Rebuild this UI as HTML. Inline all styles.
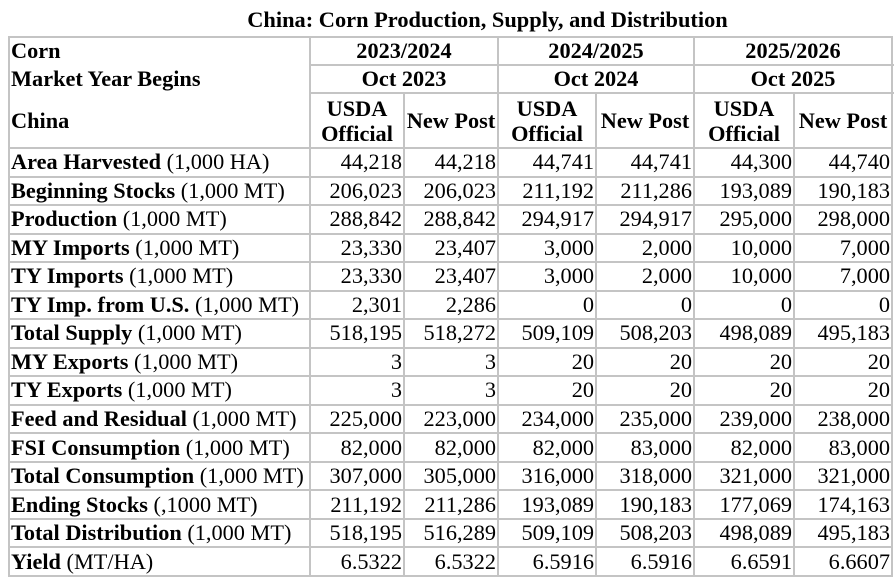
<!DOCTYPE html>
<html><head><meta charset="utf-8"><style>
html,body{margin:0;padding:0;background:#fff;width:895px;height:586px;overflow:hidden}
body{position:relative;font-family:"Liberation Serif","Times New Roman","DejaVu Serif",serif;color:#000}
.t{position:absolute;top:8px;left:40px;width:895px;text-align:center;font-weight:bold;font-size:22.4px;line-height:24px;font-family:"Liberation Serif","Times New Roman",serif;white-space:nowrap}
.l{position:absolute;background:#c4c4c4}
.c{position:absolute;font-size:22.3px;line-height:24px;white-space:nowrap;display:flex;align-items:center;font-family:"Liberation Serif","Times New Roman",serif}
.b{font-weight:bold}
</style></head><body>
<div class="t">China: Corn Production, Supply, and Distribution</div>
<div id="g"></div>
<script>
var g=document.getElementById('g');
var X=[9,310,404,498,596,694,794,892];
var Y=[37,65,93,148];
for(var i=1;i<=15;i++)Y.push(148+i*28.53);
function line(x,y,w,h){var d=document.createElement('div');d.className='l';d.style.left=x+'px';d.style.top=y+'px';d.style.width=w+'px';d.style.height=h+'px';g.appendChild(d);}
function cell(x1,x2,y1,y2,html,align,bold){var d=document.createElement('div');d.className='c'+(bold?' b':'');d.style.left=(x1+2)+'px';d.style.width=(x2-x1-4)+'px';d.style.top=y1+'px';d.style.height=(y2-y1)+'px';d.style.justifyContent=align;d.style.textAlign=align=='center'?'center':'left';d.innerHTML=html;g.appendChild(d);}
for(var i=0;i<Y.length;i++){
  var y=Y[i];
  if(i==1||i==2){line(X[1],y-1,X[7]-X[1]+2,2);} else line(X[0]-1,y-1,X[7]-X[0]+2,2);
}
line(X[0]-1,37,2,Y[18]-37);line(X[7]-1,37,2,Y[18]-37);
[1,3,5].forEach(function(k){line(X[k]-1,37,2,Y[18]-37);});
[2,4,6].forEach(function(k){line(X[k]-1,93,2,Y[18]-93);});
cell(X[0],X[1],37,65,'Corn','flex-start',1);
cell(X[0],X[1],65,93,'Market Year Begins','flex-start',1);
cell(X[0],X[1],93,148,'China','flex-start',1);
var yr=['2023/2024','2024/2025','2025/2026'],oc=['Oct 2023','Oct 2024','Oct 2025'];
for(var k=0;k<3;k++){
 cell(X[1+2*k],X[3+2*k],37,65,yr[k],'center',1);
 cell(X[1+2*k],X[3+2*k],65,93,oc[k],'center',1);
 cell(X[1+2*k],X[2+2*k],93,148,'<div style="width:100%;text-align:center;line-height:25px">USDA<br>Official</div>','center',1);
 cell(X[2+2*k],X[3+2*k],93,148,'New Post','center',1);
}
var R=[
['Area Harvested','(1,000 HA)','44,218','44,218','44,741','44,741','44,300','44,740'],
['Beginning Stocks','(1,000 MT)','206,023','206,023','211,192','211,286','193,089','190,183'],
['Production','(1,000 MT)','288,842','288,842','294,917','294,917','295,000','298,000'],
['MY Imports','(1,000 MT)','23,330','23,407','3,000','2,000','10,000','7,000'],
['TY Imports','(1,000 MT)','23,330','23,407','3,000','2,000','10,000','7,000'],
['TY Imp. from U.S.','(1,000 MT)','2,301','2,286','0','0','0','0'],
['Total Supply','(1,000 MT)','518,195','518,272','509,109','508,203','498,089','495,183'],
['MY Exports','(1,000 MT)','3','3','20','20','20','20'],
['TY Exports','(1,000 MT)','3','3','20','20','20','20'],
['Feed and Residual','(1,000 MT)','225,000','223,000','234,000','235,000','239,000','238,000'],
['FSI Consumption','(1,000 MT)','82,000','82,000','82,000','83,000','82,000','83,000'],
['Total Consumption','(1,000 MT)','307,000','305,000','316,000','318,000','321,000','321,000'],
['Ending Stocks','(,1000 MT)','211,192','211,286','193,089','190,183','177,069','174,163'],
['Total Distribution','(1,000 MT)','518,195','516,289','509,109','508,203','498,089','495,183'],
['Yield','(MT/HA)','6.5322','6.5322','6.5916','6.5916','6.6591','6.6607']];
for(var r=0;r<15;r++){
 var y1=Y[3+r],y2=Y[4+r];
 cell(X[0],X[1],y1,y2,'<b>'+R[r][0]+'</b>&nbsp;'+R[r][1],'flex-start',0);
 for(var c=0;c<6;c++)cell(X[1+c],X[2+c],y1,y2,R[r][2+c],'flex-end',0);
}
</script>
</body></html>
